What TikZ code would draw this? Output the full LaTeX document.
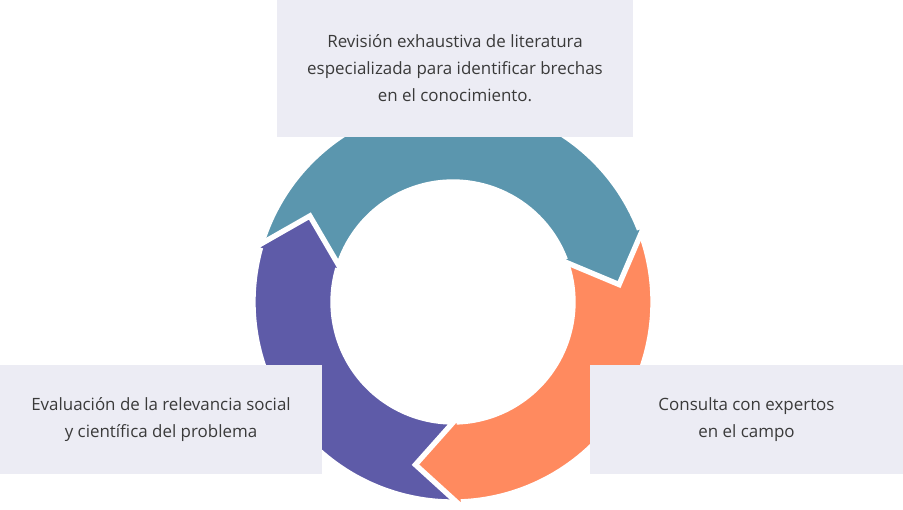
\documentclass[tikz,border=0pt]{standalone}
\usepackage{fontspec}
\setmainfont{Open Sans}
\usepackage{tikz}
\usetikzlibrary{positioning}
\definecolor{cTeal}{HTML}{5B96AE}
\definecolor{cOrange}{HTML}{FF8A5F}
\definecolor{cViolet}{HTML}{5E5BA8}
\definecolor{boxFill}{HTML}{ECECF4}
\definecolor{tInk}{HTML}{3A3A3A}
\tikzset{
  stepnote/.style={fill=boxFill, inner sep=0pt, align=center, text=tInk,
    font=\fontsize{12.7}{20.25}\selectfont},
  ringpart/.style={draw=white, line width=4pt, line join=miter},
}

\begin{document}
\begin{tikzpicture}[x=0.75pt, y=0.75pt]
  \useasboundingbox (0,0) rectangle (903,510);
  \coordinate (ctr) at (453,208);
  % ring parts: colour / tail angle / head angle
  \foreach \col/\ta/\hb in {cViolet/278/165, cOrange/28/-87, cTeal/172/22} {
    \pgfmathsetmacro{\tip}{\hb-16}
    \path[ringpart, fill=\col, shift={(ctr)}] (\ta:200)
      arc[start angle=\ta, end angle=\hb, radius=200]
      -- (\hb:207) -- (\tip:167) -- (\hb:114) -- (\hb:120)
      arc[start angle=\hb, end angle=\ta, radius=120] -- cycle;
  }
  % violet head again, on top of the teal tail
  \begin{scope}
    \clip (ctr) -- ++(140:260) arc[start angle=140, end angle=180, radius=260] -- cycle;
    \path[ringpart, fill=cViolet, shift={(ctr)}] (278:200)
      arc[start angle=278, end angle=165, radius=200]
      -- (165:207) -- (149:167) -- (165:114) -- (165:120)
      arc[start angle=165, end angle=278, radius=120] -- cycle;
  \end{scope}
  \node[stepnote, minimum width=267pt, minimum height=102.75pt] (revision) at (455,441.5)
    {Revisión exhaustiva de literatura\\especializada para identificar brechas\\en el conocimiento.};
  \node[stepnote, minimum width=241.5pt, minimum height=81.75pt] (evaluacion) at (161,90.5)
    {Evaluación de la relevancia social\\y científica del problema};
  \node[stepnote, minimum width=234.75pt, minimum height=81.75pt] (consulta) at (746.5,90.5)
    {Consulta con expertos\\en el campo};
\end{tikzpicture}
\end{document}
